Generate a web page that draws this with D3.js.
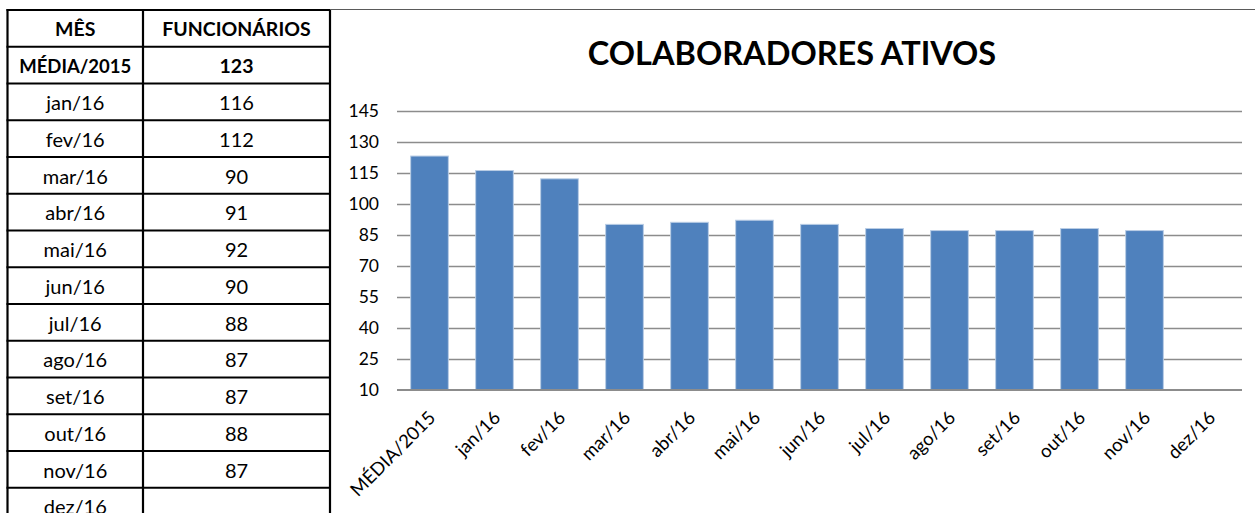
<!DOCTYPE html>
<html>
<head>
<meta charset="utf-8">
<script src="https://cdn.jsdelivr.net/npm/d3@7"></script>
<style>
  html, body { margin: 0; padding: 0; background: #fff; }
  svg { display: block; font-family: Lato, "Open Sans", sans-serif; }
</style>
</head>
<body>
<svg id="chart" width="1255" height="513"></svg>
<script>
// ---- data ----
const categories = ["MÉDIA/2015", "jan/16", "fev/16", "mar/16", "abr/16", "mai/16", "jun/16", "jul/16", "ago/16", "set/16", "out/16", "nov/16", "dez/16"];
const values = [123, 116, 112, 90, 91, 92, 90, 88, 87, 87, 88, 87, null];
const yTicks = [10, 25, 40, 55, 70, 85, 100, 115, 130, 145];
const tableHeaders = ["MÊS", "FUNCIONÁRIOS"];
const chartTitle = "COLABORADORES ATIVOS";

const svg = d3.select("#chart");

// ---- table ----
const tX0 = 7.5, tX1 = 143, tX2 = 330;
const tY0 = 10, rowH = 36.75;
const rows = [tableHeaders].concat(categories.map((c, i) => [c, values[i] == null ? "" : String(values[i])]));
const tg = svg.append("g");
rows.forEach((r, i) => {
  const yc = tY0 + rowH * i + rowH / 2 + 1;
  const bold = i <= 1;
  const fs = i === 0 ? 19.5 : (i === 1 ? 18.5 : 20);
  tg.append("text").attr("x", (tX0 + tX1) / 2).attr("y", yc).attr("dy", "0.36em")
    .attr("text-anchor", "middle").attr("font-size", fs)
    .attr("font-weight", bold ? "bold" : "normal").attr("fill", "#000").text(r[0]);
  tg.append("text").attr("x", (tX1 + tX2) / 2).attr("y", yc).attr("dy", "0.36em")
    .attr("text-anchor", "middle").attr("font-size", i === 1 ? 19.5 : fs)
    .attr("font-weight", bold ? "bold" : "normal").attr("fill", "#000").text(r[1]);
});
// horizontal lines
d3.range(rows.length).forEach(i => {
  const y = tY0 + rowH * i;
  tg.append("line").attr("x1", tX0 - 1).attr("x2", tX2 + 1).attr("y1", y).attr("y2", y)
    .attr("stroke", "#000").attr("stroke-width", 2.2);
});
[tX0, tX1, tX2].forEach(x => {
  tg.append("line").attr("x1", x).attr("x2", x).attr("y1", tY0 - 1).attr("y2", 513)
    .attr("stroke", "#000").attr("stroke-width", 2.2);
});
// chart area top border
svg.append("line").attr("x1", tX2).attr("x2", 1255).attr("y1", 9.5).attr("y2", 9.5)
  .attr("stroke", "#5a5a5a").attr("stroke-width", 1);

// ---- chart ----
const x = d3.scaleBand().domain(categories).range([397, 1242]).paddingInner(0.42).paddingOuter(0.21);
const y = d3.scaleLinear().domain([10, 145]).range([390, 110.5]);

// gridlines
svg.append("g").selectAll("line").data(yTicks.slice(1)).join("line")
  .attr("x1", 397).attr("x2", 1242)
  .attr("y1", d => Math.round(y(d)) + 0.5).attr("y2", d => Math.round(y(d)) + 0.5)
  .attr("stroke", "#8c8c8c").attr("stroke-width", 1.3);

// y axis labels
const yAxis = d3.axisLeft(y).tickValues(yTicks).tickSize(0).tickPadding(0);
const yg = svg.append("g").attr("transform", "translate(379,0)").call(yAxis);
yg.select(".domain").remove();
yg.selectAll("text").attr("font-size", 17.5).attr("fill", "#000").attr("font-family", "Lato, sans-serif");

// bars
svg.append("g").selectAll("rect").data(categories.map((c, i) => ({c, v: values[i]})).filter(d => d.v != null))
  .join("rect")
  .attr("x", d => x(d.c)).attr("width", x.bandwidth())
  .attr("y", d => y(d.v)).attr("height", d => y(10) - y(d.v))
  .attr("fill", "#4f81bd").attr("stroke", "#b9cde5").attr("stroke-width", 1);

// baseline
svg.append("line").attr("x1", 397).attr("x2", 1242).attr("y1", y(10)).attr("y2", y(10))
  .attr("stroke", "#8c8c8c").attr("stroke-width", 2);

// x labels
const xAxis = d3.axisBottom(x).tickSize(0).tickPadding(0);
const xg = svg.append("g").attr("transform", "translate(0,390)").call(xAxis);
xg.select(".domain").remove();
xg.selectAll("text").attr("font-size", 18.5).attr("fill", "#000").attr("font-family", "Lato, sans-serif")
  .attr("text-anchor", "end").attr("dy", 0).attr("y", 0)
  .attr("transform", "translate(7,29) rotate(-45)");

// title
svg.append("text").attr("x", 792).attr("y", 65).attr("text-anchor", "middle")
  .attr("font-size", 32.5).attr("font-weight", "bold").attr("fill", "#000").text(chartTitle);
</script>
</body>
</html>
